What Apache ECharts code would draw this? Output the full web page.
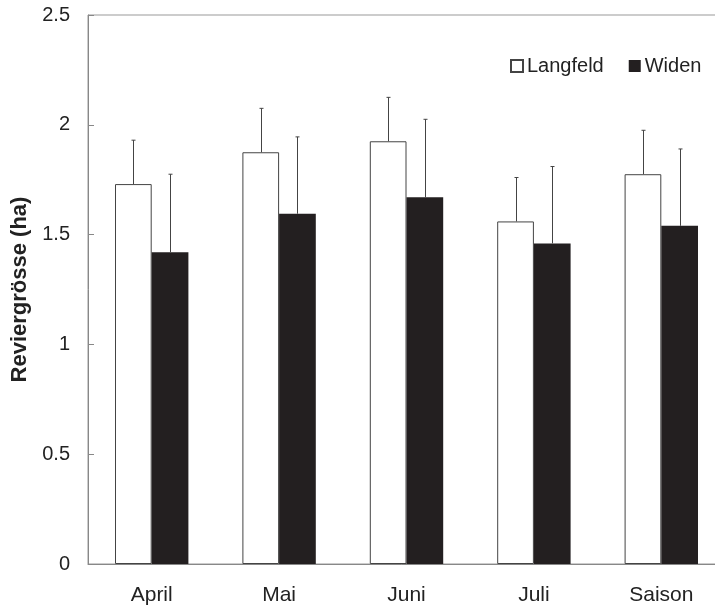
<!DOCTYPE html>
<html>
<head>
<meta charset="utf-8">
<script src="https://cdn.jsdelivr.net/npm/echarts@6/dist/echarts.min.js"></script>
<style>
  html, body { margin: 0; padding: 0; background: #fff; }
  #chart { width: 715px; height: 612px; }
</style>
</head>
<body>
<div id="chart"></div>
<script>
const categories = ['April', 'Mai', 'Juni', 'Juli', 'Saison']
const langfeld = [1.73, 1.875, 1.925, 1.56, 1.775]
const langfeldErr = [1.93, 2.075, 2.125, 1.76, 1.975]
const widen = [1.42, 1.595, 1.67, 1.46, 1.54]
const widenErr = [1.775, 1.945, 2.025, 1.81, 1.89]

const FONT = 'Liberation Sans, Arial, sans-serif'
const BAR_W = 36.7

const errorSeries = (name, lows, highs, offset) => ({
  name: name + ' err',
  type: 'custom',
  silent: true,
  z: 3,
  data: categories.map((c, i) => [i, lows[i], highs[i]]),
  renderItem: (params, api) => {
    const lo = api.coord([api.value(0), api.value(1)])
    const hi = api.coord([api.value(0), api.value(2)])
    const x = Math.round(lo[0] + offset) + 0.5
    const style = { stroke: '#444', lineWidth: 1 }
    return {
      type: 'group',
      children: [
        { type: 'line', shape: { x1: x, y1: lo[1], x2: x, y2: hi[1] }, style },
        { type: 'line', shape: { x1: x - 2, y1: hi[1], x2: x + 2, y2: hi[1] }, style }
      ]
    }
  }
})

const chart = echarts.init(document.getElementById('chart'), null, { renderer: 'canvas' })

chart.setOption({
  animation: false,
  textStyle: { fontFamily: FONT },
  grid: {
    left: 88,
    top: 15,
    width: 637,
    height: 549,
    outerBoundsMode: 'none',
    containLabel: false,
    show: true,
    borderColor: '#999',
    borderWidth: 1
  },
  legend: {
    left: 505,
    top: 51,
    itemWidth: 12,
    itemHeight: 12,
    itemGap: 25,
    icon: 'rect',
    data: ['Langfeld', 'Widen'],
    textStyle: { fontFamily: FONT, fontSize: 20, color: '#222', padding: [0, 0, 0, -1] }
  },
  xAxis: {
    type: 'category',
    data: categories,
    axisLine: { lineStyle: { color: '#888' } },
    axisTick: { inside: true, length: 6, interval: 0, lineStyle: { color: '#888' } },
    axisLabel: { fontFamily: FONT, fontSize: 21, color: '#222', margin: 21 }
  },
  yAxis: {
    type: 'value',
    min: 0,
    max: 2.5,
    interval: 0.5,
    name: 'Reviergrösse (ha)',
    nameLocation: 'middle',
    nameGap: 55,
    nameTextStyle: { fontFamily: FONT, fontSize: 22, fontWeight: 'bold', color: '#222' },
    axisLine: { show: true, lineStyle: { color: '#888' } },
    axisTick: { show: true, inside: true, length: 6, lineStyle: { color: '#888' } },
    axisLabel: { fontFamily: FONT, fontSize: 20, color: '#222', margin: 18 },
    splitLine: { show: false }
  },
  series: [
    {
      name: 'Langfeld',
      type: 'bar',
      data: langfeld,
      barWidth: BAR_W,
      barGap: '0%',
      itemStyle: { color: '#fff', borderColor: '#444', borderWidth: 1 }
    },
    {
      name: 'Widen',
      type: 'bar',
      data: widen,
      barWidth: BAR_W,
      barGap: '0%',
      itemStyle: { color: '#231f20' }
    },
    errorSeries('Langfeld', langfeld, langfeldErr, -BAR_W / 2),
    errorSeries('Widen', widen, widenErr, BAR_W / 2)
  ]
})
</script>
</body>
</html>
